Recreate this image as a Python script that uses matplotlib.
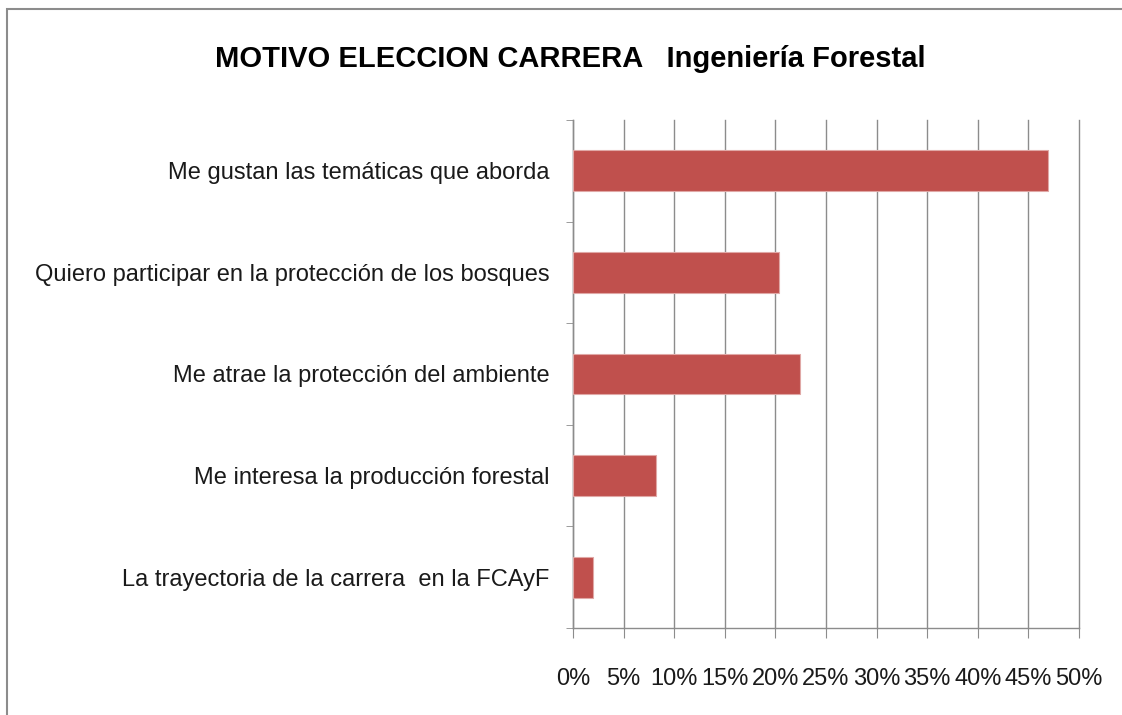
import matplotlib.pyplot as plt
from matplotlib.patches import Rectangle
from matplotlib.ticker import FixedLocator, PercentFormatter

# Survey answers (share of respondents), top to bottom as in the chart
motivos = [
    "Me gustan las temáticas que aborda",
    "Quiero participar en la protección de los bosques",
    "Me atrae la protección del ambiente",
    "Me interesa la producción forestal",
    "La trayectoria de la carrera  en la FCAyF",
]
porcentajes = [46.9, 20.4, 22.4, 8.2, 2.0]
x_ticks = [0, 5, 10, 15, 20, 25, 30, 35, 40, 45, 50]

plt.rcParams['font.family'] = ['Liberation Sans', 'DejaVu Sans']

fig = plt.figure(figsize=(11.22, 7.15), dpi=100)
ax = fig.add_axes([0.5107, 0.1217, 0.4510, 0.7105])

# outer frame of the chart object
fig.patches.append(Rectangle((0.006, -0.05), 1.1, 1.038, transform=fig.transFigure,
                             fill=False, edgecolor='#8c8c8c', linewidth=1.5))

y = list(range(len(motivos)))[::-1]
ax.barh(y, porcentajes, height=0.4, color='#C0504D', edgecolor='#e0a8a6',
        linewidth=0.8, zorder=3)

ax.set_xlim(0, 50)
ax.set_ylim(-0.5, len(motivos) - 0.5)
ax.set_xticks(x_ticks)
ax.xaxis.set_major_formatter(PercentFormatter(decimals=0))
ax.set_yticks(y)
ax.set_yticklabels(motivos)
ax.yaxis.set_minor_locator(FixedLocator([i - 0.5 for i in range(len(motivos) + 1)]))

ax.grid(axis='x', color='#8c8c8c', linewidth=1.0, zorder=0)
for gl in ax.get_xgridlines():
    gl.set_clip_on(False)
for s in ['top', 'right']:
    ax.spines[s].set_visible(False)
for s in ['left', 'bottom']:
    ax.spines[s].set_color('#8c8c8c')
    ax.spines[s].set_linewidth(1.0)

ax.tick_params(axis='x', direction='out', length=7, color='#8c8c8c',
               labelsize=17, pad=22, labelcolor='#1a1a1a')
ax.tick_params(axis='y', which='major', length=0, pad=17, labelsize=17,
               labelcolor='#1a1a1a')
ax.tick_params(axis='y', which='minor', direction='out', length=5, color='#8c8c8c')

fig.text(0.508, 0.918, "MOTIVO ELECCION CARRERA   Ingeniería Forestal",
         ha='center', va='center', fontsize=21, fontweight='bold', color='black')

plt.savefig("out.png", dpi=100)
